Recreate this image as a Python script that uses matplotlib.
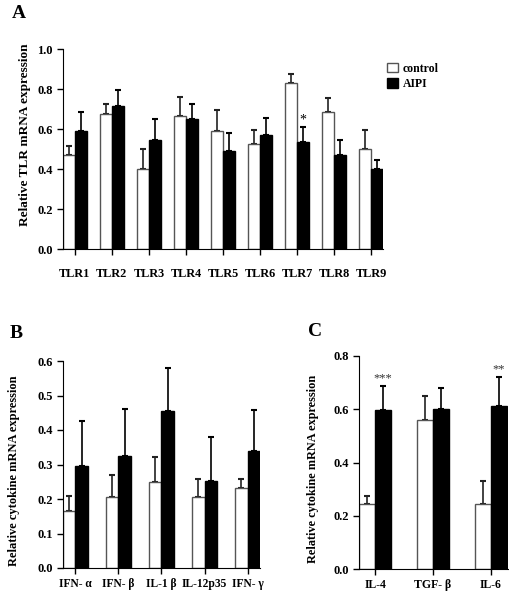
import numpy as np
import matplotlib.pyplot as plt

plt.rcParams['font.family'] = ['Liberation Serif', 'DejaVu Serif']
plt.rcParams['font.weight'] = 'bold'

# panel A
tlr = ["TLR1", "TLR2", "TLR3", "TLR4", "TLR5", "TLR6", "TLR7", "TLR8", "TLR9"]
tlr_ctrl = [0.472, 0.675, 0.40, 0.663, 0.588, 0.525, 0.83, 0.683, 0.50]
tlr_ctrl_err = [0.041, 0.05, 0.10, 0.095, 0.109, 0.068, 0.043, 0.07, 0.097]
tlr_aipi = [0.592, 0.713, 0.547, 0.65, 0.488, 0.57, 0.533, 0.47, 0.40]
tlr_aipi_err = [0.095, 0.08, 0.105, 0.075, 0.09, 0.085, 0.075, 0.077, 0.047]

# panel B
cyt_b = ["IFN- α", "IFN- β", "IL-1 β", "IL-12p35", "IFN- γ"]
b_ctrl = [0.164, 0.207, 0.25, 0.205, 0.231]
b_ctrl_err = [0.045, 0.062, 0.071, 0.053, 0.026]
b_aipi = [0.296, 0.326, 0.454, 0.253, 0.34]
b_aipi_err = [0.131, 0.135, 0.125, 0.127, 0.118]

# panel C
cyt_c = ["IL-4", "TGF- β", "IL-6"]
c_ctrl = [0.244, 0.558, 0.246]
c_ctrl_err = [0.029, 0.09, 0.085]
c_aipi = [0.596, 0.60, 0.614]
c_aipi_err = [0.092, 0.079, 0.109]


def bars(ax, names, ctrl, ctrl_err, aipi, aipi_err, w):
    x = np.arange(len(names))
    ax.bar(x - w / 2, ctrl, w, color="white", edgecolor="#555555", linewidth=1.0,
           label="control", zorder=2)
    ax.bar(x + w / 2, aipi, w, color="black", edgecolor="black", linewidth=1.0,
           label="AIPI", zorder=2)
    ax.errorbar(x - w / 2, ctrl, yerr=[np.zeros(len(x)), ctrl_err], fmt="none",
                ecolor="#222222", elinewidth=1.2, capsize=2.5, capthick=1.5, zorder=1)
    ax.errorbar(x + w / 2, aipi, yerr=[np.zeros(len(x)), aipi_err], fmt="none",
                ecolor="black", elinewidth=1.2, capsize=2.5, capthick=1.5, zorder=1)
    ax.set_xticks(x)
    ax.set_xticklabels(names)
    ax.spines["top"].set_visible(False)
    ax.spines["right"].set_visible(False)
    ax.tick_params(axis="both", direction="out", length=4, width=1)
    for t in ax.get_xticklabels() + ax.get_yticklabels():
        t.set_fontweight("bold")
    return x


fig = plt.figure(figsize=(5.1, 5.96), dpi=100)
W, H = 510, 596

axA = fig.add_axes([63 / W, 1 - 249 / H, 320 / W, 200 / H])
w = 0.32
bars(axA, tlr, tlr_ctrl, tlr_ctrl_err, tlr_aipi, tlr_aipi_err, w)
axA.set_xlim(-w, len(tlr) - 1 + w)
axA.set_ylim(0, 1.0)
axA.set_yticks([0.0, 0.2, 0.4, 0.6, 0.8, 1.0])
axA.set_yticklabels(["0.0", "0.2", "0.4", "0.6", "0.8", "1.0"])
axA.tick_params(axis="x", labelsize=8.8, pad=10)
axA.tick_params(axis="y", labelsize=9)
axA.set_ylabel("Relative TLR mRNA expression", fontsize=9.5, fontweight="bold")
axA.yaxis.set_label_coords(-0.1, 0.57)
axA.text(6 + w / 2, tlr_aipi[6] + tlr_aipi_err[6] + 0.005, "*", ha="center",
         va="bottom", fontsize=10, fontweight="normal")
axA.legend(loc="upper left", bbox_to_anchor=(0.98, 0.985), frameon=False,
           handlelength=0.9, handleheight=0.9, handletextpad=0.4,
           labelspacing=0.3, prop={"family": "Liberation Serif", "size": 8.5})

axB = fig.add_axes([63 / W, 1 - 568 / H, 197 / W, 207 / H])
w = 0.29
bars(axB, cyt_b, b_ctrl, b_ctrl_err, b_aipi, b_aipi_err, w)
axB.set_xlim(-w, len(cyt_b) - 1 + w)
axB.set_ylim(0, 0.6)
axB.set_yticks([0.0, 0.1, 0.2, 0.3, 0.4, 0.5, 0.6])
axB.tick_params(axis="x", labelsize=8.3, pad=3)
axB.tick_params(axis="y", labelsize=9)
axB.set_ylabel("Relative cytokine mRNA expression", fontsize=9, fontweight="bold")
axB.yaxis.set_label_coords(-0.22, 0.47)

axC = fig.add_axes([359 / W, 1 - 569 / H, 149 / W, 213 / H])
w = 0.28
bars(axC, cyt_c, c_ctrl, c_ctrl_err, c_aipi, c_aipi_err, w)
axC.set_xlim(-w, len(cyt_c) - 1 + w + 0.02)
axC.set_ylim(0, 0.8)
axC.set_yticks([0.0, 0.2, 0.4, 0.6, 0.8])
axC.tick_params(axis="x", labelsize=8.5, pad=3)
axC.tick_params(axis="y", labelsize=9)
axC.set_ylabel("Relative cytokine mRNA expression", fontsize=8.8, fontweight="bold")
axC.yaxis.set_label_coords(-0.27, 0.47)
stars = {0: "***", 2: "**"}
for i, s in stars.items():
    axC.text(i + w / 2, c_aipi[i] + c_aipi_err[i] + 0.005, s, ha="center",
             va="bottom", fontsize=9, fontweight="normal", color="#333333")

fig.text(12 / W, 1 - 13 / H, "A", fontsize=14, fontweight="bold", va="center")
fig.text(10 / W, 1 - 333 / H, "B", fontsize=14, fontweight="bold", va="center")
fig.text(308 / W, 1 - 332 / H, "C", fontsize=14, fontweight="bold", va="center")

fig.savefig("out.png", dpi=100)
